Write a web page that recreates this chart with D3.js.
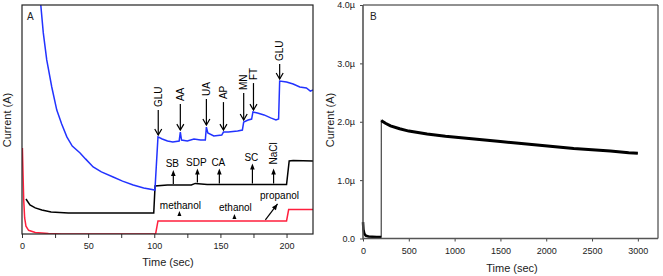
<!DOCTYPE html>
<html>
<head>
<meta charset="utf-8">
<script src="https://cdn.jsdelivr.net/npm/d3@7"></script>
<style>
  body { margin: 0; background: #fff; }
  svg { font-family: "Liberation Sans", Arial, sans-serif; }
</style>
</head>
<body>
<div id="vis"></div>
<script>
const FRAME_WIDTH = 663;
const FRAME_HEIGHT = 276;

// ---- panel A data: time (s) vs current (arbitrary units) ----
const blueTime = [12, 14.2, 16.1, 18.7, 22.5, 26.3, 30, 33.9, 38, 43.9, 48, 53.8, 60, 68.9, 76, 84.1, 92, 100.5,
  102.8, 106, 110, 114, 118.8, 119.7, 120.6, 125, 130, 135, 138.6, 139.4, 140.5, 145, 151, 152.3, 156, 163, 166.6,
  167.6, 171, 173.6, 174.6, 178, 183, 188, 192, 194.0, 194.8, 200, 205, 210, 215, 218, 220];
const blueCurrent = [108.7, 100.0, 87.8, 76.0, 64.2, 54.1, 48.0, 42.4, 38.4, 35.4, 32.8, 29.3, 27.1, 24.9, 23.1, 21.4, 20.1, 19.2,
  42.4, 41.5, 40.6, 40.2, 40.6, 44.5, 41.0, 40.6, 41.5, 41.0, 41.0, 46.7, 44.1, 42.8, 43.2, 44.5, 44.5, 45.0, 45.4,
  48.9, 49.8, 50.2, 53.3, 52.8, 52.0, 50.7, 49.8, 50.2, 66.8, 66.4, 65.5, 64.2, 63.8, 62.4, 62.9];

const blackTime = [3, 6, 10, 15, 22, 35, 99.6, 100.6, 110, 128, 131, 140, 200, 202, 205, 220];
const blackCurrent = [15.3, 12.7, 11.4, 10.5, 9.6, 9.2, 9.2, 21.0, 21.4, 21.4, 22.1, 21.6, 21.6, 31.9, 32.1, 31.9];

const redTime = [0.3, 0.8, 1.3, 2, 3, 5, 10, 20, 30, 101, 102.8, 150, 200, 201.6, 220];
const redCurrent = [37.6, 25.8, 14.8, 7.0, 3.4, 1.6, 0.7, 0.2, 0, 0, 5.7, 5.7, 5.7, 10.7, 10.7];

// additions marked on the traces
const downLabels = ["GLU", "AA", "UA", "AP", "MN", "FT", "GLU"];
const downTimes = [103, 119.7, 139.4, 152.3, 167.6, 175, 194.8];
const upLabels = ["SB", "SDP", "CA", "SC", "NaCl"];
const upTimes = [114.4, 132.6, 149.2, 174.2, 190.2];
const redLabels = ["methanol", "ethanol"];
const redTimes = [119, 160.6];

const xTicksA = [0, 25, 50, 75, 100, 125, 150, 175, 200];

// ---- panel B data: time (s) vs current (µA) ----
const bTime = [0, 5, 15, 30, 60, 100, 150, 199, 200, 210, 250, 300, 400, 500, 700, 900, 1100, 1300, 1500, 1700,
  1900, 2100, 2300, 2500, 2700, 2900, 3000];
const bCurrent = [0.28, 0.15, 0.08, 0.05, 0.035, 0.03, 0.025, 0.025, 2.02, 2.01, 1.97, 1.93, 1.88, 1.84, 1.79, 1.75,
  1.72, 1.69, 1.66, 1.63, 1.60, 1.57, 1.54, 1.52, 1.50, 1.47, 1.46];

const xTicksB = [0, 500, 1000, 1500, 2000, 2500, 3000];
const yTicksB = [0, 1, 2, 3, 4];

const svg = d3.select("#vis").append("svg")
  .attr("width", FRAME_WIDTH)
  .attr("height", FRAME_HEIGHT);

// ================= panel A =================
const A = {left: 22, right: 313, top: 5, bottom: 234};
const xA = d3.scaleLinear().domain([0, 220]).range([A.left, A.right]);
const yA = d3.scaleLinear().domain([0, 100]).range([A.bottom, A.top]);

svg.append("clipPath").attr("id", "clipA")
  .append("rect").attr("x", A.left).attr("y", A.top)
  .attr("width", A.right - A.left).attr("height", A.bottom - A.top);

const lineA = d3.line().x(d => xA(d[0])).y(d => yA(d[1]));
const zip = (a, b) => a.map((v, i) => [v, b[i]]);

const blue = zip(blueTime, blueCurrent);
const black = zip(blackTime, blackCurrent);
const red = zip(redTime, redCurrent);

const gA = svg.append("g").attr("clip-path", "url(#clipA)");
gA.append("path").datum(red).attr("d", lineA)
  .attr("fill", "none").attr("stroke", "#ff1f3d").attr("stroke-width", 1.5);
gA.append("path").datum(black).attr("d", lineA)
  .attr("fill", "none").attr("stroke", "#000").attr("stroke-width", 1.5);
gA.append("path").datum(blue).attr("d", lineA)
  .attr("fill", "none").attr("stroke", "#2233ff").attr("stroke-width", 1.5);

// x axis
svg.append("g")
  .attr("transform", "translate(0," + A.bottom + ")")
  .call(d3.axisBottom(xA).tickValues(xTicksA).tickSize(4).tickPadding(5)
    .tickFormat(d => d % 50 === 0 ? d : ""))
  .call(g => g.select(".domain").remove())
  .call(g => g.selectAll("text").attr("font-size", 9).attr("fill", "#222").attr("font-family", null))
  .call(g => g.selectAll("line").attr("stroke", "#333"));

svg.append("rect")
  .attr("x", A.left).attr("y", A.top)
  .attr("width", A.right - A.left).attr("height", A.bottom - A.top)
  .attr("fill", "none").attr("stroke", "#222").attr("stroke-width", 1.2);

svg.append("text").attr("x", 168).attr("y", 266).attr("text-anchor", "middle")
  .attr("font-size", 11).attr("fill", "#222").text("Time (sec)");
svg.append("text").attr("transform", "translate(11,120) rotate(-90)")
  .attr("text-anchor", "middle").attr("font-size", 11).attr("fill", "#222").text("Current (A)");
svg.append("text").attr("x", 27).attr("y", 20).attr("font-size", 10).attr("fill", "#222").text("A");

// value of a trace at time t
function valueAt(series, t) {
  const i = d3.bisector(d => d[0]).left(series, t);
  if (i <= 0) return series[0][1];
  if (i >= series.length) return series[series.length - 1][1];
  const a = series[i - 1], b = series[i];
  return a[1] + (b[1] - a[1]) * (t - a[0]) / (b[0] - a[0]);
}

const ann = svg.append("g").attr("fill", "#000").attr("stroke", "#000");

// down arrows onto the blue trace
const downLen = [25, 26, 26, 28, 27, 27, 15];
downLabels.forEach((lab, i) => {
  const x = xA(downTimes[i]);
  const tip = yA(valueAt(blue, downTimes[i])) - 2;
  const top = tip - downLen[i];
  ann.append("line").attr("x1", x).attr("x2", x).attr("y1", top).attr("y2", tip).attr("stroke-width", 1.2);
  ann.append("path").attr("d", `M${x - 3.5},${tip - 6}L${x},${tip}L${x + 3.5},${tip - 6}`)
    .attr("fill", "none").attr("stroke-width", 1.2);
  ann.append("text").attr("transform", `translate(${x},${top - 3}) rotate(-90)`)
    .attr("dy", "0.35em").attr("font-size", 10).attr("stroke", "none").text(lab);
});

// up arrows from the black trace
const upLen = [14, 14, 15, 20, 15];
function upArrow(x, base, len) {
  const tip = base - len;
  ann.append("line").attr("x1", x).attr("x2", x).attr("y1", base).attr("y2", tip + 4).attr("stroke-width", 1.2);
  ann.append("path").attr("d", `M${x - 2.3},${tip + 6}L${x},${tip}L${x + 2.3},${tip + 6}Z`).attr("stroke", "none");
  return tip;
}
upLabels.forEach((lab, i) => {
  const x = xA(upTimes[i]);
  const tip = upArrow(x, yA(valueAt(black, upTimes[i])) - 1, upLen[i]);
  if (lab === "NaCl") {
    ann.append("text").attr("transform", `translate(${x},${tip - 4}) rotate(-90)`)
      .attr("dy", "0.35em").attr("font-size", 10).attr("stroke", "none").text(lab);
  } else {
    ann.append("text").attr("x", x - 1).attr("y", tip - 3).attr("text-anchor", "middle")
      .attr("font-size", 10).attr("stroke", "none").text(lab);
  }
});

// red trace: solvent additions
const redBase = [5, 2];
const redLabelGap = [11.5, 9.5];
redLabels.forEach((lab, i) => {
  const x = xA(redTimes[i]);
  const y = yA(valueAt(red, redTimes[i]));
  const b = y - redBase[i];
  ann.append("path").attr("d", `M${x - 2},${b}L${x},${b - 5}L${x + 2},${b}Z`).attr("stroke", "none");
  ann.append("text").attr("x", x + 1).attr("y", y - redLabelGap[i]).attr("text-anchor", "middle")
    .attr("font-size", 10).attr("stroke", "none").text(lab);
});
{
  const yR = yA(valueAt(red, 190));
  const x0 = xA(184), y0 = yR - 1;
  const x1 = xA(193.2), y1 = yR - 17;
  const ang = Math.atan2(y1 - y0, x1 - x0);
  ann.append("line").attr("x1", x0).attr("y1", y0).attr("x2", x1).attr("y2", y1).attr("stroke-width", 1.2);
  const hx = (dx, dy) => [x1 + dx * Math.cos(ang) - dy * Math.sin(ang), y1 + dx * Math.sin(ang) + dy * Math.cos(ang)];
  const p1 = hx(-6, -2.5), p2 = hx(-6, 2.5);
  ann.append("path").attr("d", `M${x1},${y1}L${p1[0]},${p1[1]}L${p2[0]},${p2[1]}Z`).attr("stroke", "none");
  ann.append("text").attr("x", xA(194.7)).attr("y", yR - 21.5).attr("text-anchor", "middle")
    .attr("font-size", 10).attr("stroke", "none").text("propanol");
}

// ================= panel B =================
const B = {left: 363, right: 658, top: 5, bottom: 238.5};
const xB = d3.scaleLinear().domain([0, 3220]).range([B.left, B.right]);
const yB = d3.scaleLinear().domain([0, 4]).range([B.bottom, B.top]);
const lineB = d3.line().x(d => xB(d[0])).y(d => yB(d[1]));
const bData = zip(bTime, bCurrent);

svg.append("path").datum(bData).attr("d", lineB)
  .attr("fill", "none").attr("stroke", "#444").attr("stroke-width", 1.2);
svg.append("path").datum(bData.filter(d => d[0] < 200)).attr("d", lineB)
  .attr("fill", "none").attr("stroke", "#000").attr("stroke-width", 2.5);
svg.append("path").datum(bData.filter(d => d[0] >= 200)).attr("d", lineB)
  .attr("fill", "none").attr("stroke", "#000").attr("stroke-width", 3);

svg.append("g")
  .attr("transform", "translate(0," + B.bottom + ")")
  .call(d3.axisBottom(xB).tickValues(xTicksB).tickSize(3).tickPadding(6).tickSizeOuter(0)
    .tickFormat(d3.format("d")))
  .call(g => g.select(".domain").remove())
  .call(g => g.selectAll("text").attr("font-size", 9).attr("fill", "#222").attr("font-family", null))
  .call(g => g.selectAll("line").attr("stroke", "#444"));

svg.append("g")
  .attr("transform", "translate(" + B.left + ",0)")
  .call(d3.axisLeft(yB).tickValues(yTicksB).tickSize(3).tickPadding(5).tickSizeOuter(0)
    .tickFormat(d => d === 0 ? "0.0" : d.toFixed(1) + "µ"))
  .call(g => g.select(".domain").remove())
  .call(g => g.selectAll("text").attr("font-size", 9).attr("fill", "#222").attr("font-family", null))
  .call(g => g.selectAll("line").attr("stroke", "#444"));

svg.append("path")
  .attr("d", `M${B.left},${B.top}H${B.right}V${B.bottom}`)
  .attr("fill", "none").attr("stroke", "#222").attr("stroke-width", 1);
svg.append("path")
  .attr("d", `M${B.left},${B.top}V${B.bottom}H${B.right}`)
  .attr("fill", "none").attr("stroke", "#555").attr("stroke-width", 1.6);

svg.append("text").attr("x", 512).attr("y", 272).attr("text-anchor", "middle")
  .attr("font-size", 11).attr("fill", "#222").text("Time (sec)");
svg.append("text").attr("transform", "translate(334,120) rotate(-90)")
  .attr("text-anchor", "middle").attr("font-size", 11).attr("fill", "#222").text("Current (A)");
svg.append("text").attr("x", 370).attr("y", 20).attr("font-size", 10).attr("fill", "#222").text("B");
</script>
</body>
</html>
